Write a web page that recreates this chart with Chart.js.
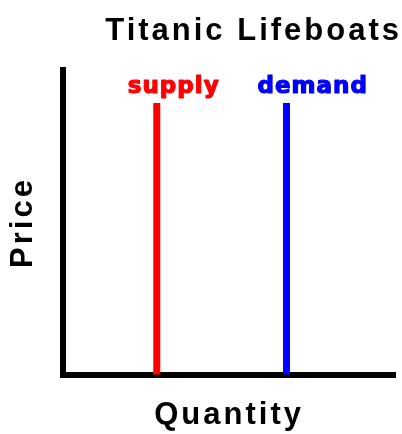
<!DOCTYPE html>
<html>
<head>
<meta charset="utf-8">
<script src="https://cdn.jsdelivr.net/npm/chart.js@4"></script>
<style>
  html, body { margin: 0; padding: 0; background: #fff; }
  #wrap { width: 402px; height: 434px; }
</style>
</head>
<body>
<div id="wrap"><canvas id="myChart"></canvas></div>
<script>
const curveNames = ["supply", "demand"];
const curveColors = ["#FF0000", "#0000FF"];
const curveQuantity = [2.82, 6.73];   // both curves are vertical
const curveBottom = [0, 0];
const curveTop = [8.92, 8.92];

// spacing for the chunky gif-like lettering
function setSpacing(chart) {
    chart.ctx.letterSpacing = '3px';
}

const spacingPlugin = {
    id: 'spacing',
    beforeUpdate: setSpacing,
    beforeDraw: setSpacing
};

// writes each curve name just above its top end
const curveLabels = {
    id: 'curveLabels',
    afterDatasetsDraw(chart) {
        let ctx = chart.ctx;
        ctx.save();
        ctx.font = 'bold 23px "DejaVu Sans"';
        ctx.letterSpacing = '1px';
        ctx.textAlign = 'left';
        ctx.textBaseline = 'alphabetic';
        ctx.lineWidth = 1.2;
        ctx.lineJoin = 'round';
        chart.data.datasets.forEach((ds, i) => {
            let pts = chart.getDatasetMeta(i).data;
            let top = pts[pts.length - 1];
            ctx.fillStyle = ds.borderColor;
            ctx.strokeStyle = ds.borderColor;
            ctx.fillText(ds.label, top.x - 29, top.y - 10);
            ctx.strokeText(ds.label, top.x - 29, top.y - 10);
        });
        ctx.restore();
    }
};

let datasets = curveNames.map((name, i) => ({
    label: name,
    data: [
        { x: curveQuantity[i], y: curveBottom[i] },
        { x: curveQuantity[i], y: curveTop[i] }
    ],
    borderColor: curveColors[i],
    backgroundColor: curveColors[i],
    borderWidth: 7,
    pointRadius: 0,
    clip: 0
}));

let ctx = document.getElementById('myChart').getContext('2d');
let myChart = new Chart(ctx, {
    type: 'line',
    data: { datasets: datasets },
    options: {
        responsive: true,
        maintainAspectRatio: false,
        animation: false,
        layout: { padding: 0 },
        scales: {
            x: {
                type: 'linear',
                min: 0,
                max: 10,
                z: 1,
                grid: { display: false, drawTicks: false },
                ticks: { display: false },
                border: { display: true, color: '#000', width: 6 },
                title: {
                    display: true,
                    text: 'Quantity',
                    color: '#000',
                    font: { family: '"Liberation Sans", Arial', size: 31, weight: 'bold' },
                    padding: { top: 22, bottom: 0 }
                }
            },
            y: {
                type: 'linear',
                min: 0,
                max: 10,
                z: 1,
                grid: { display: false, drawTicks: false },
                ticks: { display: false },
                border: { display: true, color: '#000', width: 6 },
                title: {
                    display: true,
                    text: 'Price',
                    color: '#000',
                    font: { family: '"Liberation Sans", Arial', size: 31, weight: 'bold' },
                    padding: { top: 5, bottom: 21 }
                }
            },
            gap: {
                type: 'linear',
                position: 'right',
                display: true,
                grid: { display: false, drawTicks: false },
                ticks: { display: false },
                border: { display: false },
                afterFit: function(scale) { scale.width = 7; }
            }
        },
        plugins: {
            legend: { display: false },
            tooltip: { enabled: false },
            title: {
                display: true,
                text: 'Titanic Lifeboats',
                align: 'end',
                color: '#000',
                font: { family: '"Liberation Sans", Arial', size: 31, weight: 'bold' },
                padding: { top: 13, bottom: 20 }
            }
        }
    },
    plugins: [spacingPlugin, curveLabels]
});
</script>
</body>
</html>
